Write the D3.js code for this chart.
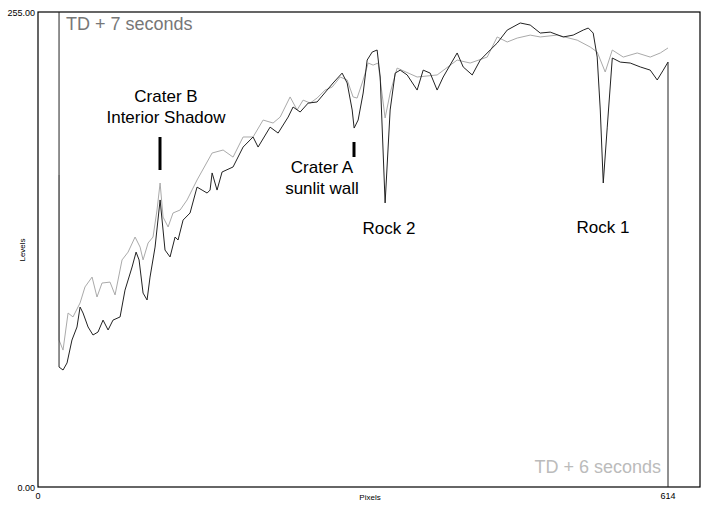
<!DOCTYPE html>
<html><head><meta charset="utf-8">
<script src="https://cdn.jsdelivr.net/npm/d3@7"></script>
<style>body{margin:0;background:#fff}svg{font-family:Arial,"Liberation Sans",sans-serif}</style>
</head><body><svg id="c" width="710" height="508"></svg>
<script>
const blackX=[20.5,20.5,24.4,28.3,33.1,38,41,43.9,48.8,53.6,58.5,63.4,68.3,73.1,80,84.8,91.7,95.6,98.5,102.4,106.3,109.2,114.1,119,123.8,128.7,133.6,136.5,141.4,148.2,155,159.9,164.8,167.7,169.7,174.5,179.4,190.1,199.9,209.6,214.5,226.2,234,243.8,248.6,255.5,263.3,272,281.8,287.6,296.4,301.3,306.2,308.1,312,316.9,320.8,325.7,330.5,333.5,338.3,343.2,348.1,353,359.8,369.5,375.4,382.2,389,394.9,408.5,414.4,423.2,431,440.7,447.5,457.3,470,479.7,489.5,499.2,511.9,521.6,531.4,536.3,541.1,545,548,550.9,554.8,559.7,567.5,577.2,587,596.7,603.5,609.4,614,614];
const blackY=[255,64.4,62.8,66.6,78.9,85.9,96.6,93.4,85.9,81.6,83.2,89.6,84.3,89.6,91.3,105.7,118.1,126.1,121.9,104.1,100.4,112.7,128.8,154.1,127.2,123.5,134.2,132.6,143.3,147.1,161,159.4,157.8,159.4,168.6,159.4,169.1,171.8,182.5,187.9,182.5,193.2,190,198.6,204,201.3,206.1,206.7,213.1,216.9,222.2,216.9,202.4,192.7,197,211.5,229.2,233.5,234.6,220.1,152.5,202.4,222.2,223.8,221.2,213.1,223.8,222.2,213.1,220.1,233,225.5,221.2,229.2,234.6,238.3,245.3,249.1,248,243.7,244.2,241.6,242.6,245.3,246.4,243.7,230.8,202.4,163.2,193.2,230.3,228.1,227.6,225.5,223.8,218.5,223.8,228.1,0];
const grayX=[20.5,20.5,24.4,29.3,34.1,41,45.8,52.7,57.5,62.4,70.2,75.1,81.9,87.8,94.6,99.5,102.4,107.3,112.1,116,119,121.9,126.8,131.6,138.5,145.3,155,169.7,180.4,190.1,199.9,209.6,219.4,229.1,236,245.7,252.5,258.4,265.2,272,279.8,286.7,294.5,301.3,307.1,311,316.9,321.8,326.6,331.5,338.3,343.2,350,369.5,389,408.5,421.2,437.8,447.5,457.3,467,479.7,489.5,506,525.5,538.2,545,552.8,559.7,570.4,584,596.7,606.5,614];
const grayY=[167.5,78.9,73.5,93.4,91.3,98.8,107.4,112.7,102,109.5,110,103.1,121.9,126.1,134.2,128.8,121.9,131,134.2,148.7,163.2,144.9,139.6,147.1,148.7,154.1,164.8,179.3,180.9,177.1,187.9,187.9,197,195.4,198.6,209.4,202.4,207.7,206.1,208.8,213.1,214.7,220.1,218.5,209.4,208.8,218.5,227.6,226.5,227.6,198.1,211.5,224.9,220.1,221.2,229.2,227.6,230.8,241.6,238.9,241,242.6,241.6,242.6,239.9,236.2,233.5,222.8,234.6,230.8,233,230.8,233,235.7];
const xTicks=[0,614];
const yTicks=[0,255];
const svg=d3.select("#c");
const x=d3.scaleLinear().domain([0,614]).range([38,668]);
const y=d3.scaleLinear().domain([0,255]).range([487,12]);
svg.append("rect").attr("x",38).attr("y",12).attr("width",662).attr("height",475).attr("fill","none").attr("stroke","#000").attr("stroke-width",1.2);
const line=d3.line().x(d=>x(d[0])).y(d=>y(d[1]));
svg.append("path").datum(grayX.map((v,i)=>[v,grayY[i]])).attr("d",line).attr("fill","none").attr("stroke","#aaa").attr("stroke-width",1);
svg.append("path").datum(blackX.map((v,i)=>[v,blackY[i]])).attr("d",line).attr("fill","none").attr("stroke","#222").attr("stroke-width",1);
svg.selectAll(".yt").data(yTicks).join("text").attr("x",35).attr("y",d=>y(d)+4).attr("text-anchor","end").attr("font-size",9).text(d=>d.toFixed(2));
svg.selectAll(".xt").data(xTicks).join("text").attr("x",d=>x(d)).attr("y",499).attr("text-anchor","middle").attr("font-size",9).text(d=>d);
svg.append("text").attr("x",370).attr("y",500).attr("text-anchor","middle").attr("font-size",8).text("Pixels");
svg.append("text").attr("transform","translate(25,250) rotate(-90)").attr("text-anchor","middle").attr("font-size",8).text("Levels");
svg.append("text").attr("x",66).attr("y",30).attr("font-size",18).attr("fill","#777").text("TD + 7 seconds");
svg.append("text").attr("x",661).attr("y",473).attr("text-anchor","end").attr("font-size",18).attr("fill","#bbb").text("TD + 6 seconds");
const ann=[["Crater B",166,102],["Interior Shadow",166,123],["Crater A",322,173],["sunlit wall",322,194],["Rock 2",389,234],["Rock 1",603,233]];
svg.selectAll(".an").data(ann).join("text").attr("x",d=>d[1]).attr("y",d=>d[2]).attr("text-anchor","middle").attr("font-size",17).text(d=>d[0]);
svg.append("line").attr("x1",160).attr("x2",160).attr("y1",137).attr("y2",170).attr("stroke","#000").attr("stroke-width",3);
svg.append("line").attr("x1",354).attr("x2",354).attr("y1",142).attr("y2",157).attr("stroke","#000").attr("stroke-width",3);
</script></body></html>
